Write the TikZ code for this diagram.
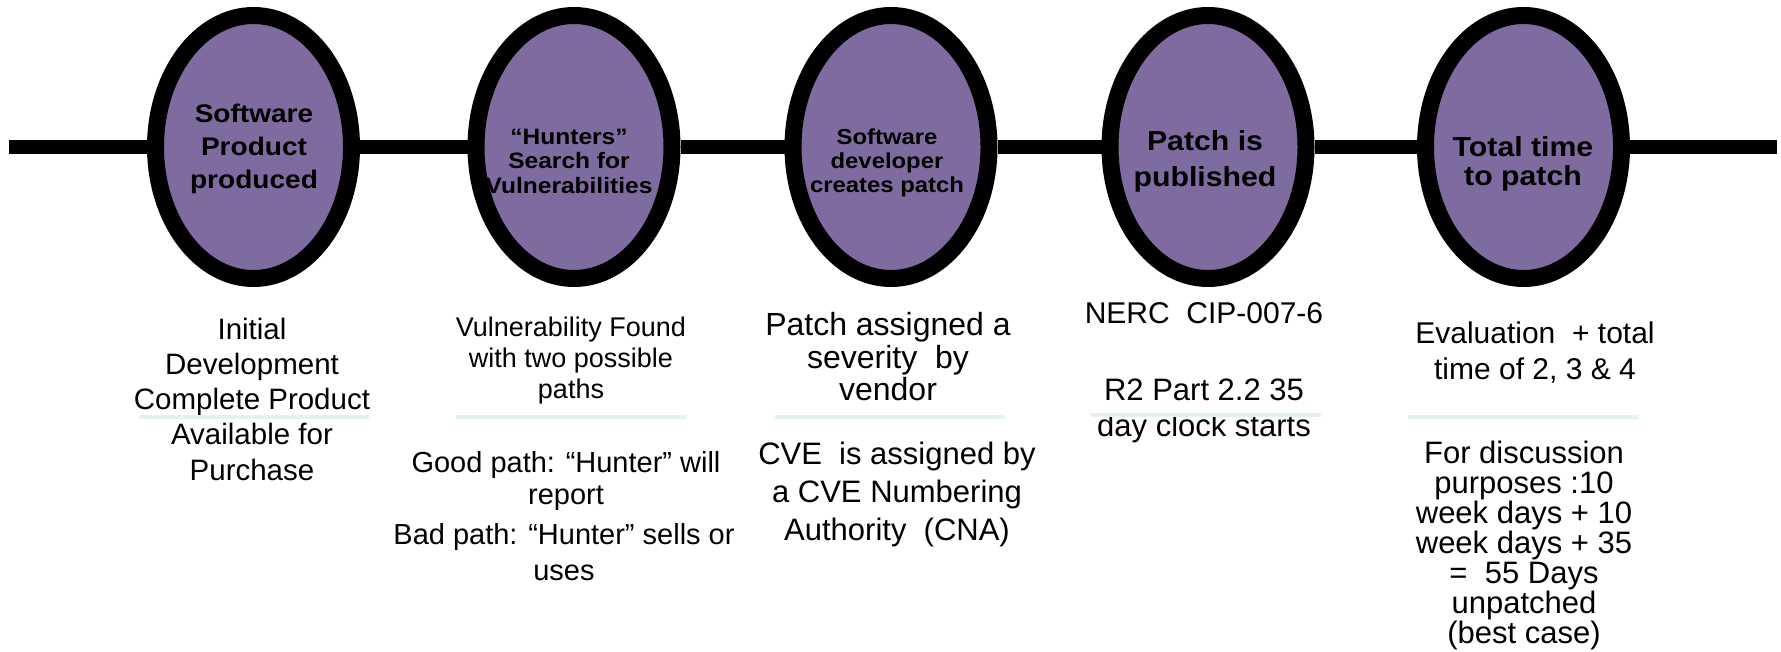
\documentclass[tikz,border=0pt]{standalone}
\usepackage{fontspec}
\setmainfont{Liberation Sans}
\newfontfamily\ellfont[FakeStretch=1.1]{Liberation Sans}
\usetikzlibrary{shapes.geometric,backgrounds}
\definecolor{stagefill}{RGB}{127,107,160}
\definecolor{sepline}{RGB}{228,242,242}
\lineskiplimit=-100pt
\newcommand\topx{\rule{0pt}{0.8em}}
\begin{document}
\begin{tikzpicture}[x=1pt,y=-1pt,
  stage/.style={ellipse, draw=black, fill=stagefill, line width=17pt,
    minimum width=196pt, minimum height=263pt, inner sep=0pt},
  stagetext/.style={anchor=north, align=center, inner sep=0pt, text=black},
  note/.style={anchor=north, align=center, inner sep=0pt, text=black},
  timeline/.style={line width=14pt, draw=black},
  sepbar/.style={line width=3.3pt, draw=sepline}]
\useasboundingbox (0,0) rectangle (1781,652);

% stages
\node[stage] (e1) at (253.5,147) {};
\node[stage] (e2) at (574,147) {};
\node[stage] (e3) at (891,147) {};
\node[stage] (e4) at (1208,147) {};
\node[stage] (e5) at (1523.5,147) {};

\coordinate (L) at (9,147);
\coordinate (R) at (1777,147);

\begin{pgfonlayer}{background}
\draw[timeline] (L) -- (e1);
\draw[timeline] (e1) -- (e2);
\draw[timeline] (e2) -- (e3);
\draw[timeline] (e3) -- (e4);
\draw[timeline] (e4) -- (e5);
\draw[timeline] (e5) -- (R);
\end{pgfonlayer}

% stage titles
\node[stagetext, font={\ellfont\bfseries\fontsize{25.5}{33}\selectfont}] (t1) at (254,101.6)
  {\topx Software\\Product\\produced};
\node[stagetext, font={\ellfont\bfseries\fontsize{22.3}{24.5}\selectfont}] (t2) at (569,126)
  {\topx “Hunters”\\Search for\\Vulnerabilities};
\node[stagetext, font={\ellfont\bfseries\fontsize{21.7}{24}\selectfont}] (t3) at (887,127.3)
  {\topx Software\\developer\\creates patch};
\node[stagetext, font={\ellfont\bfseries\fontsize{27.5}{36}\selectfont}] (t4) at (1205,128.7)
  {\topx Patch is\\published};
\node[stagetext, font={\ellfont\bfseries\fontsize{27.5}{28.5}\selectfont}] (t5) at (1523,134.7)
  {\topx Total time\\to patch};

% notes
\node[note, font={\fontsize{29.5}{35.25}\selectfont}] (n1) at (252,315.4)
  {\topx Initial\\Development\\Complete Product\\Available for\\Purchase};
\node[note, font={\fontsize{27}{30.7}\selectfont}] (n2a) at (571,315)
  {\topx Vulnerability Found\\with two possible\\paths};
\node[note, font={\fontsize{29}{31.8}\selectfont}] (n2b) at (566,449.1)
  {\topx Good path: “Hunter” will\\report};
\node[note, font={\fontsize{29}{36}\selectfont}] (n2c) at (564,521.2)
  {\topx Bad path: “Hunter” sells or\\uses};
\node[note, font={\fontsize{32}{32.5}\selectfont}] (n3a) at (888,309.7)
  {\topx Patch assigned a\\severity\ \ by\\vendor};
\node[note, font={\fontsize{31}{38}\selectfont}] (n3b) at (897,439.2)
  {\topx CVE\ \ is assigned by\\a CVE Numbering\\Authority\ \ (CNA)};
\node[note, font={\fontsize{30}{36}\selectfont}] (n4a) at (1204,299.3)
  {\topx NERC\ \ CIP-007-6};
\node[note, font={\fontsize{31}{36}\selectfont}] (n4b) at (1204,375.9)
  {\topx R2 Part 2.2 35\\day clock starts};
\node[note, font={\fontsize{30}{36}\selectfont}] (n5a) at (1535,319)
  {\topx Evaluation\ \ + total\\time of 2, 3 \& 4};
\node[note, font={\fontsize{31}{30}\selectfont}] (n5b) at (1524,438.5)
  {\topx For discussion\\purposes :10\\week days + 10\\week days + 35\\=\ \ 55 Days\\unpatched\\(best case)};

% separators
\draw[sepbar] (139,417) -- (369,417);
\draw[sepbar] (456,417) -- (687,417);
\draw[sepbar] (775,417) -- (1005,417);
\draw[sepbar] (1090,415) -- (1321,415);
\draw[sepbar] (1408,417) -- (1639,417);
\end{tikzpicture}
\end{document}
